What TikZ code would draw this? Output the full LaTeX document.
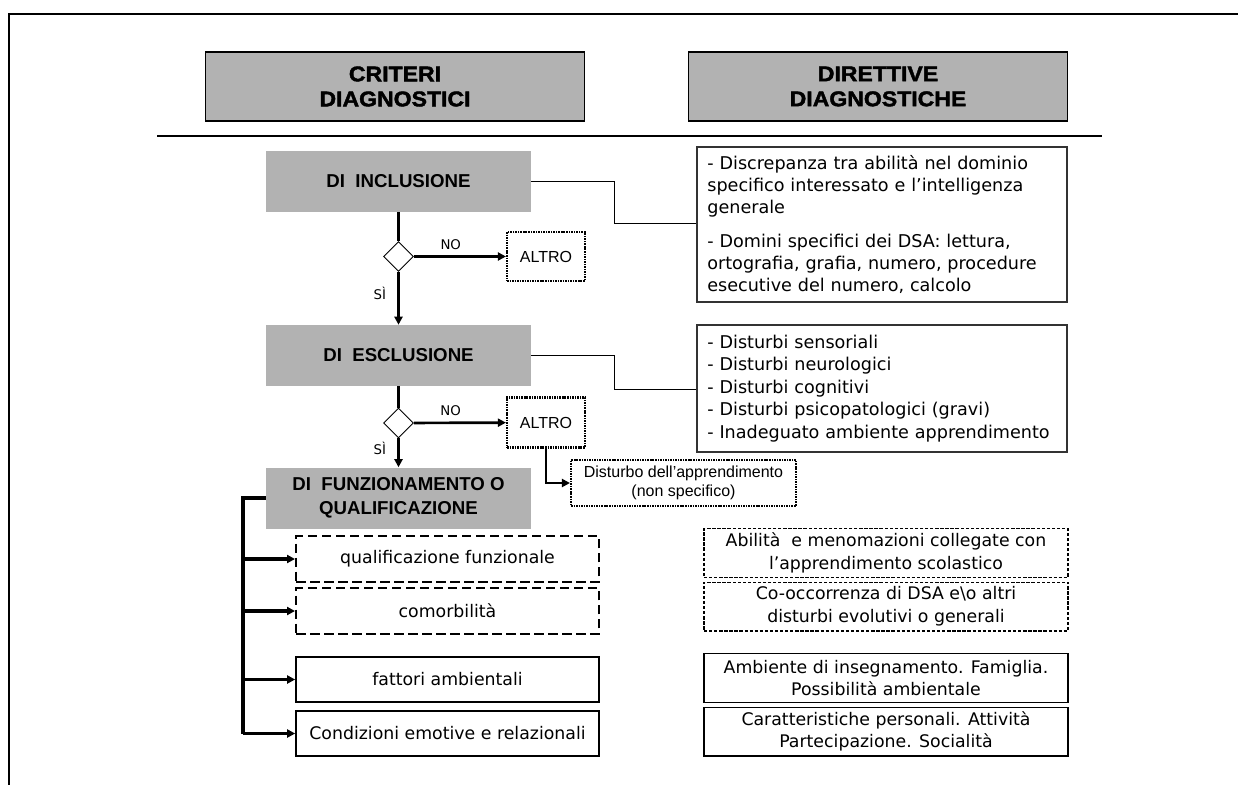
\documentclass[tikz,border=0pt]{standalone}
\usepackage{fontspec}
\setmainfont{Liberation Sans}
\newfontfamily\headfont{Liberation Sans}[BoldFeatures={FakeBold=2,FakeStretch=1.08}]
\newfontfamily\comic{DejaVu Sans}
\usetikzlibrary{shapes.geometric,positioning,arrows.meta}

\definecolor{boxgray}{RGB}{178,178,178}

\tikzset{
  headbox/.style={draw, line width=1.2pt, fill=boxgray, inner sep=0pt,
    minimum width=284pt, minimum height=51.75pt, align=center,
    font=\headfont\bfseries\fontsize{16}{18.75}\selectfont},
  critbox/.style={fill=boxgray, inner sep=0pt, minimum width=199pt,
    minimum height=45.75pt, align=center, font=\bfseries\fontsize{14}{18}\selectfont},
  choice/.style={diamond, draw, line width=0.7pt, inner sep=0pt,
    minimum width=22.5pt, minimum height=22.5pt},
  altrobox/.style={draw, line width=1.6pt, dash pattern=on 1.2pt off 0.7pt,
    inner sep=0pt, align=center, font=\fontsize{12}{14}\selectfont},
  notebox/.style={draw=black!80, line width=0.8pt, inner sep=0pt,
    minimum width=277.5pt, text width=262pt, align=left,
    font=\comic\fontsize{13.2}{16.5}\selectfont},
  leftbox/.style={draw, line width=1.5pt, inner sep=0pt, minimum width=227pt,
    minimum height=34pt, align=center, font=\comic\fontsize{13}{16}\selectfont},
  rightbox/.style={draw, line width=1pt, inner sep=0pt, minimum width=273pt,
    minimum height=36.5pt, align=center, font=\comic\fontsize{13}{17}\selectfont},
  flow/.style={line width=1.8pt},
  arr/.style={line width=2pt, -{Triangle[length=6pt,width=6pt]}},
  link/.style={line width=0.75pt},
  small/.style={font=\comic\fontsize{10}{12}\selectfont}
}

\begin{document}
\begin{tikzpicture}[x=0.75pt,y=-0.75pt]
\useasboundingbox (0,0) rectangle (1238,785);

\draw[line width=2.2pt] (1238,14) -- (9,14) -- (9,785);
\draw[line width=1.4pt] (157,136) -- (1102,136);

\node[headbox] (crit) at (395,86.5) {CRITERI\\DIAGNOSTICI};
\node[headbox] (dir) at (878,86.5) {DIRETTIVE\\DIAGNOSTICHE};

% criteri
\node[critbox] (incl) at (398.5,181.5) {DI\ \ INCLUSIONE};
\node[critbox] (escl) at (398.5,355.5) {DI\ \ ESCLUSIONE};
\node[critbox] (funz) at (398.5,498) {DI\ \ FUNZIONAMENTO O\\QUALIFICAZIONE};

\node[choice] (ch1) at (398.5,256.5) {};
\node[choice] (ch2) at (398.5,423) {};

\node[altrobox, minimum width=58.5pt, minimum height=36.75pt] (altro1) at (546,256.5) {ALTRO};
\node[altrobox, minimum width=58.5pt, minimum height=37.5pt] (altro2) at (546,422.5) {ALTRO};
\node[altrobox, minimum width=168.75pt, minimum height=34.5pt] (nonspec) at (683.5,483)
  {Disturbo dell’apprendimento\\(non specifico)};

\draw[flow] (incl) -- (ch1);
\draw[arr] (ch1) -- node[small, pos=0.4, above=1pt] {NO} (altro1);
\draw[arr] (ch1) -- node[small, pos=0.4, left=5pt] {SÌ} (escl);
\draw[flow] (escl) -- (ch2);
\draw[arr] (ch2) -- node[small, pos=0.4, above=1pt] {NO} (altro2);
\draw[arr] (ch2) -- node[small, pos=0.35, left=5pt] {SÌ} (funz);
\draw[arr] (altro2.south) |- (nonspec.west);

% direttive
\node[notebox, minimum height=116.25pt] (dir1) at (882,224.5)
  {- Discrepanza tra abilità nel dominio\\specifico interessato e l’intelligenza\\generale\\[9pt]
   - Domini specifici dei DSA: lettura,\\ortografia, grafia, numero, procedure\\esecutive del numero, calcolo};
\node[notebox, minimum height=95.25pt, font=\comic\fontsize{13.2}{16.9}\selectfont] (dir2) at (882,388.5)
  {- Disturbi sensoriali\\- Disturbi neurologici\\- Disturbi cognitivi\\- Disturbi psicopatologici (gravi)\\- Inadeguato ambiente apprendimento};

\coordinate (k1) at (614,223);
\coordinate (k2) at (614,389);
\draw[link] (incl.east) -| (k1) -- (k1 -| dir1.west);
\draw[link] (escl.east) -| (k2) -- (k2 -| dir2.west);

% funzionamento
\node[leftbox, dash pattern=on 7pt off 3.5pt, line width=1.7pt] (qual) at (447.5,559) {qualificazione funzionale};
\node[leftbox, dash pattern=on 7pt off 3.5pt, line width=1.7pt] (comor) at (447.5,611) {comorbilità};
\node[leftbox] (amb) at (447.5,679.5) {fattori ambientali};
\node[leftbox] (cond) at (447.5,733.5) {Condizioni emotive e relazionali};

\coordinate (brk) at (243,498);
\draw[line width=2.4pt] (funz.west) -- (brk) -- (brk |- cond.west);
\foreach \b in {qual,comor,amb,cond}
  \draw[arr, line width=2.4pt] (brk |- \b.west) -- (\b.west);

\node[rightbox, dash pattern=on 2.5pt off 1.3pt] (abil) at (886,553)
  {Abilità\ \ e menomazioni collegate con\\l’apprendimento scolastico};
\node[rightbox, dash pattern=on 2.5pt off 1.3pt] (coocc) at (886,606.5)
  {Co-occorrenza di DSA e\textbackslash o altri\\disturbi evolutivi o generali};
\node[rightbox] (insegn) at (886,678) {Ambiente di insegnamento. Famiglia.\\Possibilità ambientale};
\node[rightbox] (pers) at (886,731.5) {Caratteristiche personali. Attività\\Partecipazione. Socialità};

\end{tikzpicture}
\end{document}
